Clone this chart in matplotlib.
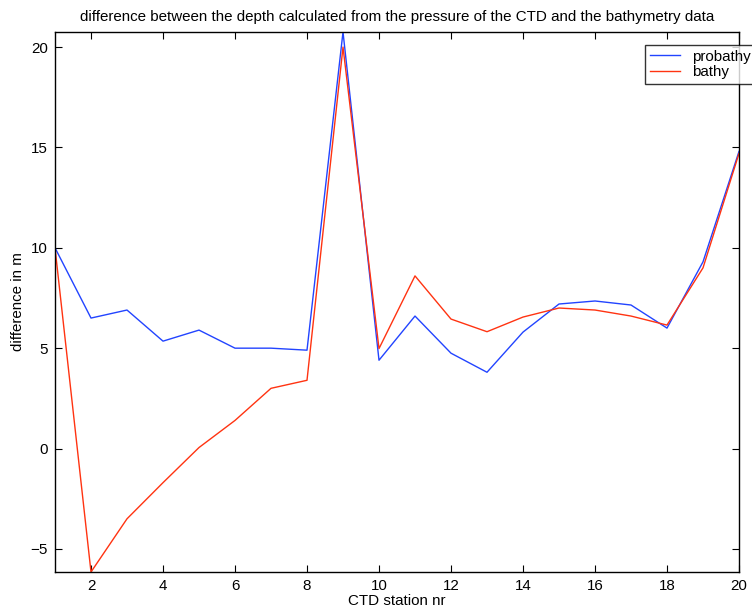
import numpy as np
import matplotlib
matplotlib.use("Agg")
import matplotlib.pyplot as plt

plt.rcParams['font.family'] = ['Liberation Sans', 'DejaVu Sans']

stations = list(range(1, 21))
probathy = [10.0, 6.5, 6.9, 5.35, 5.9, 5.0, 5.0, 4.9, 20.75, 4.4,
            6.6, 4.75, 3.8, 5.8, 7.2, 7.35, 7.15, 6.0, 9.3, 14.8]
bathy = [10.0, -6.15, -3.5, -1.7, 0.05, 1.4, 3.0, 3.4, 20.0, 4.98,
         8.6, 6.45, 5.82, 6.55, 7.0, 6.9, 6.6, 6.15, 9.0, 14.7]

xticks = [2, 4, 6, 8, 10, 12, 14, 16, 18, 20]
yticks = [-5, 0, 5, 10, 15, 20]

font_size = 10.9

fig = plt.figure(figsize=(7.52, 6.10), dpi=100)
ax = fig.add_axes([55 / 752, 38 / 610, 684 / 752, 540 / 610])

ax.plot(stations, probathy, color="#2244ff", lw=1.0, label="probathy")
ax.plot(stations, bathy, color="#ff3311", lw=1.0, label="bathy")

ax.set_xlim(1, 20)
ax.set_ylim(min(bathy), max(probathy))
ax.set_xticks(xticks)
ax.set_yticks(yticks)
ax.set_yticklabels(["\u22125", "0", "5", "10", "15", "20"])
ax.tick_params(axis="both", which="major", labelsize=font_size, direction="in",
               top=True, right=True, length=5, width=0.8, pad=5)
for s in ax.spines.values():
    s.set_linewidth(1.0)

ax.set_xlabel("CTD station nr", fontsize=font_size, labelpad=1)
ax.set_ylabel("difference in m", fontsize=font_size, labelpad=4)
ax.set_title("difference between the depth calculated from the pressure of the CTD and the bathymetry data",
             fontsize=font_size, pad=8)

leg = fig.legend(loc="upper left", bbox_to_anchor=(645 / 752, 1 - 45 / 610),
                 fontsize=font_size, frameon=True, fancybox=False,
                 handlelength=2.0, handletextpad=0.8, borderpad=0.3,
                 labelspacing=0.1, borderaxespad=0)
leg.get_frame().set_edgecolor("k")
leg.get_frame().set_linewidth(1.0)

fig.savefig("out.png", dpi=100)
